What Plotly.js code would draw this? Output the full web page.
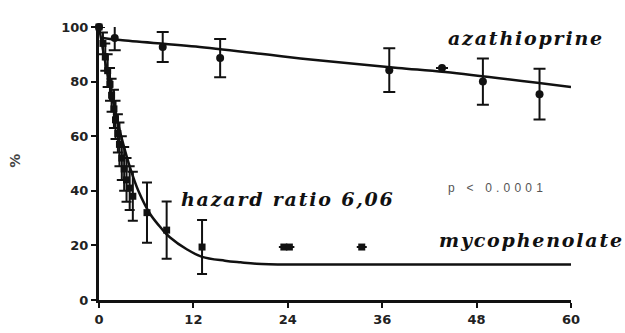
<!DOCTYPE html>
<html>
<head>
<meta charset="utf-8">
<script src="https://cdn.plot.ly/plotly-3.0.1.min.js"></script>
<style>html,body{margin:0;padding:0;background:#fff;}#chart{width:625px;height:333px;}</style>
</head>
<body>
<div id="chart"></div>
<script>
// Azathioprine observed points (months, %, error)
var azaMonths = [0, 2, 8.1, 15.4, 36.9, 43.6, 48.8, 56];
var azaPct    = [100, 96, 92.7, 88.6, 84.2, 85, 80, 75.4];
var azaErr    = [0, 4.5, 5.5, 7, 8, 0, 8.5, 9.3];
// Azathioprine fitted curve
var azaFitMonths = [0.5, 2.7, 12.8, 24, 27.2, 38, 44, 60];
var azaFitPct    = [96, 95.2, 92.7, 89, 88, 85, 83.5, 78];

// Mycophenolate observed points
var mycoMonths = [0, 0.5, 0.8, 1.1, 1.4, 1.6, 1.9, 2.1, 2.4, 2.6, 2.9, 3.2, 3.5, 3.9, 4.3, 6.1, 8.6, 13.1, 23.5, 24.2, 33.4];
var mycoPct    = [100, 94, 89, 84, 79, 75, 70, 66, 61, 57, 52, 48, 44, 41, 38, 32, 25.6, 19.4, 19.4, 19.4, 19.4];
var mycoErr    = [0, 4, 5, 6, 6, 6, 7, 7, 7, 8, 8, 8, 8, 8, 9, 11, 10.5, 9.9, 0, 0, 0];
// Mycophenolate fitted curve
var mycoFitMonths = [0, 1, 2, 3, 4, 5, 6.5, 8, 9, 11.2, 13.1, 16, 18, 20, 24, 60];
var mycoFitPct    = [100, 84, 70, 58, 48, 40, 31.5, 26, 23, 18.5, 15.8, 14.4, 13.8, 13.3, 13, 13];

var xTicks = [0, 12, 24, 36, 48, 60];
var yTicks = [0, 20, 40, 60, 80, 100];

var traces = [
  {x: azaFitMonths, y: azaFitPct, mode: 'lines', line: {color: '#111', width: 2.5, shape: 'spline'}, hoverinfo: 'skip'},
  {x: mycoFitMonths, y: mycoFitPct, mode: 'lines', line: {color: '#111', width: 2.5, shape: 'spline'}, hoverinfo: 'skip'},
  {x: azaMonths, y: azaPct, mode: 'markers', marker: {symbol: 'circle', size: 8, color: '#111'},
   error_y: {type: 'data', array: azaErr, visible: true, color: '#111', thickness: 2, width: 6}, cliponaxis: false},
  {x: mycoMonths, y: mycoPct, mode: 'markers', marker: {symbol: 'square', size: 7, color: '#111'},
   error_y: {type: 'data', array: mycoErr, visible: true, color: '#111', thickness: 2, width: 5}, cliponaxis: false}
];

var tickFont = {family: 'DejaVu Sans, sans-serif', size: 13, color: '#222', weight: 'bold'};
var labelFont = {family: 'DejaVu Serif, serif', size: 19, color: '#111', style: 'italic', weight: 'bold'};
function spaced(t, px) { return '<span style="letter-spacing:' + px + 'px">' + t + '</span>'; }

var layout = {
  width: 625, height: 333,
  margin: {l: 99, r: 54, t: 27, b: 33},
  paper_bgcolor: '#fff', plot_bgcolor: '#fff',
  showlegend: false,
  xaxis: {range: [0, 60], tickvals: xTicks, ticktext: xTicks.map(String), showgrid: false, zeroline: false,
          showline: true, linecolor: '#111', linewidth: 3, ticks: 'outside', ticklen: 5, tickwidth: 2, tickcolor: '#111',
          tickfont: tickFont},
  yaxis: {range: [0, 100], tickvals: yTicks, ticktext: yTicks.map(String), showgrid: false, zeroline: false,
          showline: true, linecolor: '#111', linewidth: 3, ticks: 'outside', ticklen: 5, tickwidth: 2, tickcolor: '#111',
          tickfont: tickFont},
  annotations: [
    {xref: 'paper', yref: 'paper', x: -0.178, y: 0.51, xanchor: 'center', yanchor: 'middle', text: '%', textangle: -90, showarrow: false,
     font: {family: 'DejaVu Sans, sans-serif', size: 14, color: '#444', weight: 'bold'}},
    {xref: 'x', yref: 'y', x: 54.3, y: 96, xanchor: 'center', text: spaced('azathioprine', 1.8), showarrow: false, font: labelFont},
    {xref: 'x', yref: 'y', x: 24.0, y: 37, xanchor: 'center', text: spaced('hazard ratio 6,06', 1.8), showarrow: false, font: labelFont},
    {xref: 'x', yref: 'y', x: 55.0, y: 22, xanchor: 'center', text: spaced('mycophenolate', 1.8), showarrow: false, font: labelFont},
    {xref: 'x', yref: 'y', x: 50.7, y: 41, xanchor: 'center', text: spaced('p &lt; 0.0001', 4.2), showarrow: false,
     font: {family: 'Liberation Sans, Arial, sans-serif', size: 12, color: '#555'}}
  ]
};

Plotly.newPlot('chart', traces, layout, {staticPlot: true, displayModeBar: false});
</script>
</body>
</html>
